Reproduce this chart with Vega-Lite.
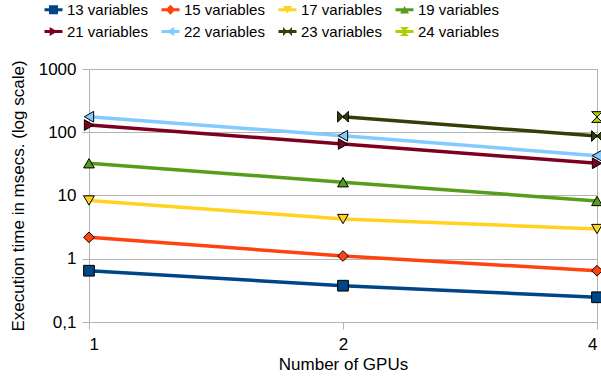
{
  "$schema": "https://vega.github.io/schema/vega-lite/v6.json",
  "width": 508,
  "height": 253,
  "autosize": {"type": "none"},
  "padding": {"left": 89, "top": 69, "right": 4, "bottom": 60},
  "background": "white",
  "config": {
    "view": {"stroke": "#b3b3b3", "strokeWidth": 1},
    "font": "Liberation Sans",
    "axis": {
      "labelFont": "Liberation Sans",
      "labelFontSize": 17,
      "labelColor": "#000000",
      "titleFont": "Liberation Sans",
      "titleFontSize": 17,
      "titleFontWeight": "normal",
      "titleColor": "#000000",
      "domainColor": "#b3b3b3",
      "tickColor": "#b3b3b3",
      "gridColor": "#b3b3b3",
      "tickSize": 7
    }
  },
  "data": {
    "values": [
      {"series": "13 variables", "gpus": 1, "time": 0.647},
      {"series": "13 variables", "gpus": 2, "time": 0.375},
      {"series": "13 variables", "gpus": 4, "time": 0.246},
      {"series": "15 variables", "gpus": 1, "time": 2.18},
      {"series": "15 variables", "gpus": 2, "time": 1.105},
      {"series": "15 variables", "gpus": 4, "time": 0.647},
      {"series": "17 variables", "gpus": 1, "time": 8.34},
      {"series": "17 variables", "gpus": 2, "time": 4.25},
      {"series": "17 variables", "gpus": 4, "time": 2.95},
      {"series": "19 variables", "gpus": 1, "time": 32.3},
      {"series": "19 variables", "gpus": 2, "time": 16.2},
      {"series": "19 variables", "gpus": 4, "time": 8.19},
      {"series": "21 variables", "gpus": 1, "time": 130},
      {"series": "21 variables", "gpus": 2, "time": 65.2},
      {"series": "21 variables", "gpus": 4, "time": 32.3},
      {"series": "22 variables", "gpus": 1, "time": 176},
      {"series": "22 variables", "gpus": 2, "time": 88},
      {"series": "22 variables", "gpus": 4, "time": 42.6},
      {"series": "23 variables", "gpus": 2, "time": 176},
      {"series": "23 variables", "gpus": 4, "time": 87},
      {"series": "24 variables", "gpus": 4, "time": 174}
    ]
  },
  "encoding": {
    "x": {
      "field": "gpus",
      "type": "quantitative",
      "title": "Number of GPUs",
      "scale": {"type": "log", "base": 2, "domain": [1, 4], "nice": false},
      "axis": {"values": [1, 2, 4], "format": "d", "grid": false, "labelPadding": 7, "titlePadding": 4}
    },
    "y": {
      "field": "time",
      "type": "quantitative",
      "title": "Execution time in msecs. (log scale)",
      "scale": {"type": "log", "domain": [0.1, 1000], "nice": false},
      "axis": {
        "values": [0.1, 1, 10, 100, 1000],
        "labelExpr": "datum.value < 0.5 ? '0,1' : format(datum.value, 'd')",
        "grid": true,
        "labelPadding": 6,
        "titlePadding": 11
      }
    },
    "color": {
      "field": "series",
      "type": "nominal",
      "scale": {
        "domain": ["13 variables", "15 variables", "17 variables", "19 variables", "21 variables", "22 variables", "23 variables", "24 variables"],
        "range": ["#004586", "#ff420e", "#ffd320", "#579d1c", "#7e0021", "#83caff", "#314004", "#aecf00"]
      },
      "legend": {
        "title": null,
        "orient": "none",
        "legendX": -43,
        "legendY": -67,
        "columns": 4,
        "direction": "horizontal",
        "labelFont": "Liberation Sans",
        "labelFontSize": 15,
        "labelColor": "#000000",
        "labelOffset": 6,
        "columnPadding": 13,
        "rowPadding": 6,
        "symbolSize": 81,
        "symbolOpacity": 1,
        "encode": {
          "symbols": {
            "update": {
              "size": {"value": 81},
              "strokeWidth": {"value": 0},
              "opacity": {"value": 1},
              "fill": {"scale": "color", "field": "value"},
              "shape": {"signal": "['M-2,-0.35H2V0.35H-2Z M-1,-1H1V1H-1Z','M-2,-0.35H2V0.35H-2Z M-1.1,0L0,-1.1L1.1,0L0,1.1Z','M-2,-0.35H2V0.35H-2Z M-1,-0.85L1,-0.85L0,0.85Z','M-2,-0.35H2V0.35H-2Z M0,-0.85L1,0.85L-1,0.85Z','M-2,-0.35H2V0.35H-2Z M-0.85,-1L0.85,0L-0.85,1Z','M-2,-0.35H2V0.35H-2Z M0.85,-1L0.85,1L-0.85,0Z','M-2,-0.35H2V0.35H-2Z M-1,-1L0,0L-1,1Z M1,-1L1,1L0,0Z','M-2,-0.35H2V0.35H-2Z M-1,-1L1,-1L0,0Z M0,0L1,1L-1,1Z'][indexof(['13 variables','15 variables','17 variables','19 variables','21 variables','22 variables','23 variables','24 variables'], datum.value)]"}
            }
          }
        }
      }
    }
  },
  "layer": [
    {
      "mark": {"type": "line", "strokeWidth": 3.5},
      "encoding": {
        "order": {"field": "gpus", "type": "quantitative"}
      }
    },
    {
      "mark": {"type": "point", "filled": true, "opacity": 1, "stroke": "#000000", "strokeWidth": 1, "size": 115},
      "encoding": {
        "shape": {
          "field": "series",
          "type": "nominal",
          "scale": {
            "domain": ["24 variables", "23 variables", "22 variables", "21 variables", "19 variables", "17 variables", "15 variables", "13 variables"],
            "range": ["M-1,-1L1,-1L0,0Z M0,0L1,1L-1,1Z", "M-1,-1L0,0L-1,1Z M1,-1L1,1L0,0Z", "triangle-left", "triangle-right", "triangle-up", "triangle-down", "diamond", "square"]
          },
          "legend": null
        }
      }
    }
  ]
}
